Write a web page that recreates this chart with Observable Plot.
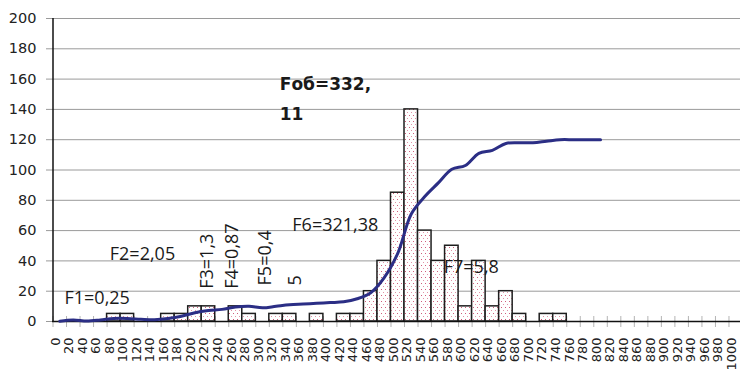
<!DOCTYPE html>
<html><head><meta charset="utf-8">
<script src="https://cdn.jsdelivr.net/npm/d3@7"></script>
<script src="https://cdn.jsdelivr.net/npm/@observablehq/plot@0.6"></script>
<style>body{margin:0;background:#fff} svg{display:block}</style>
</head><body><div id="chart"></div>
<script>
const categories = [0,20,40,60,80,100,120,140,160,180,200,220,240,260,280,300,320,340,360,380,400,420,440,460,480,500,520,540,560,580,600,620,640,660,680,700,720,740,760,780,800,820,840,860,880,900,920,940,960,980,1000];
const counts = [0,0,0,0,5,5,0,0,5,5,10,10,0,10,5,0,5,5,0,5,0,5,5,20,40,85,140,60,40,50,10,40,10,20,5,0,5,5,0,0,0,0,0,0,0,0,0,0,0,0,0];
// cumulative curve, categories 0..800
const cumulative = [0.2,1,0.3,1,2,2,1.5,1.2,2,3.5,5.8,7.2,8,9.5,10,9,10,11,11.5,12,12.5,13,15,19,29,45,71,82.5,91.5,100.5,103,111,113,117.5,118,118,119,120,120,120,120];
const yTicks = [0,20,40,60,80,100,120,140,160,180,200];
const notesH = [
  {label:"F1=0,25", at:7, level:20},
  {label:"F2=2,05", at:74, level:49},
  {label:"F6=321,38", at:344, level:68},
  {label:"F7=5,8", at:568, level:40.3}
];
const notesV = [
  {label:"F3=1,3", at:196, level:21.6},
  {label:"F4=0,87", at:233, level:21.6},
  {label:"F5=0,4\n5", at:282, level:23.8}
];
const noteBold = [{label:"Fоб=332,\n11", at:325.5, level:167}];

const bars = categories.map((c,i)=>({c, n: counts[i]})).filter(d=>d.n>0);
const cum = cumulative.map((v,i)=>({c: categories[i], v}));
const half = (categories[1]-categories[0])/2;
const boundaries = categories.map(c=>c-half).concat([categories[categories.length-1]+half]);

const chart = Plot.plot({
  width: 740, height: 371,
  marginLeft: 52, marginRight: 0, marginTop: 18, marginBottom: 50,
  x: {type:"linear", domain:[-half, categories[categories.length-1]+half], range:[52.5,742], axis:null},
  y: {domain:[0,200], axis:null},
  style: {background:"#fff", fontFamily:"DejaVu Sans"},
  marks: [
    Plot.ruleY(yTicks, {y: d=>d, stroke:"#9a9a9a", strokeWidth:1, insetLeft:-6}),
    Plot.ruleX(boundaries, {x: d=>d, stroke:"#b4b4b4", strokeWidth:1, insetTop:298, insetBottom:-6}),
    Plot.rectY(bars, {x1: d=>d.c-half, x2: d=>d.c+half, y: "n", fill:"url(#dots)", stroke:"#1e1e1e", strokeWidth:1.5}),
    Plot.ruleY([0], {stroke:"#111", strokeWidth:1.5}),
    Plot.ruleX([-half], {y1:0, y2:200, stroke:"#111", strokeWidth:1.5}),
    Plot.line(cum, {x:"c", y:"v", curve:"catmull-rom", stroke:"#2b2e85", strokeWidth:3}),
    Plot.text(yTicks, {y: d=>d, frameAnchor:"left", dx:-16, text: d=>String(d), textAnchor:"end", fontSize:14.5, fill:"#222"}),
    Plot.text(categories, {x: d=>d, frameAnchor:"bottom", dy:16, rotate:-90, textAnchor:"end", text: d=>String(d), fontSize:13, fill:"#222"}),
    Plot.text(notesH, {x:"at", y:"level", text:"label", textAnchor:"start", lineAnchor:"top", fontFamily:"Open Sans", fontSize:18, fill:"#1a1a1a"}),
    Plot.text(notesV, {x:"at", y:"level", text:"label", rotate:-90, textAnchor:"start", lineAnchor:"top", lineHeight:1.65, fontFamily:"Open Sans", fontSize:18, fill:"#1a1a1a"}),
    Plot.text(noteBold, {x:"at", y:"level", text:"label", textAnchor:"start", lineAnchor:"top", lineHeight:1.76, fontFamily:"DejaVu Sans", fontWeight:"bold", fontSize:17, fill:"#1a1a1a"})
  ]
});

const defs = d3.select(chart).insert("defs", ":first-child");
const pat = defs.append("pattern").attr("id","dots").attr("patternUnits","userSpaceOnUse").attr("width",4).attr("height",6);
pat.append("rect").attr("width",4).attr("height",6).attr("fill","#fff");
pat.append("rect").attr("x",1).attr("y",1).attr("width",1).attr("height",1).attr("fill","#d0607c");
pat.append("rect").attr("x",3).attr("y",4).attr("width",1).attr("height",1).attr("fill","#e195a8");
document.getElementById("chart").appendChild(chart);
</script>
</body></html>
